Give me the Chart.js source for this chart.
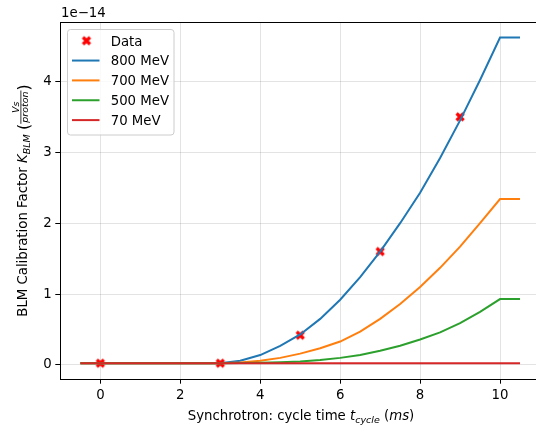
<!DOCTYPE html>
<html>
<head>
<meta charset="utf-8">
<script src="https://cdn.jsdelivr.net/npm/chart.js@4.4.1/dist/chart.umd.min.js"></script>
<style>
  html, body { margin: 0; padding: 0; background: #fff; overflow: hidden; width: 536px; height: 425px; }
  #wrap { width: 600px; height: 425px; }
</style>
</head>
<body>
<div id="wrap"><canvas id="chartBLM" width="600" height="425"></canvas></div>
<script>
/* ---- data (K in units of 1e-14 Vs/proton) ---- */
const tCycle = [-0.5, 3, 3.5, 4, 4.5, 5, 5.5, 6, 6.5, 7, 7.5, 8, 8.5, 9, 9.5, 10, 10.5];
const k800 = [0.025, 0.025, 0.06, 0.14, 0.27, 0.43, 0.65, 0.92, 1.24, 1.60, 2.00, 2.43, 2.92, 3.45, 4.02, 4.62, 4.62];
const k700 = [0.025, 0.025, 0.035, 0.06, 0.10, 0.16, 0.235, 0.33, 0.47, 0.65, 0.86, 1.10, 1.37, 1.67, 2.00, 2.34, 2.34];
const k500 = [0.025, 0.025, 0.026, 0.03, 0.038, 0.05, 0.07, 0.10, 0.14, 0.20, 0.27, 0.36, 0.46, 0.59, 0.75, 0.93, 0.93];
const k70  = [0.025, 0.025, 0.025, 0.025, 0.025, 0.025, 0.025, 0.025, 0.025, 0.025, 0.025, 0.025, 0.025, 0.025, 0.025, 0.025, 0.025];
const dataT = [0, 3, 5, 7, 9];
const dataK = [0.025, 0.025, 0.42, 1.60, 3.50];
const seriesNames = ["Data", "800 MeV", "700 MeV", "500 MeV", "70 MeV"];
const xTicks = [0, 2, 4, 6, 8, 10];
const yTicks = [0, 1, 2, 3, 4];
const offsetText = "1e\u221214";

/* ---- helpers ---- */
const FONT = "DejaVu Sans";
const FS = 13.3;
const FS_SMALL = 9.5;
function fnt(size, italic) { return (italic ? "italic " : "") + size + "px '" + FONT + "'"; }

function pts(xs, ys) { return xs.map((x, i) => ({ x: x, y: ys[i] })); }

// filled "X" marker like matplotlib
function makeXMarker(color) {
  const c = document.createElement("canvas");
  c.width = 12; c.height = 12;
  const g = c.getContext("2d");
  g.strokeStyle = color;
  g.lineWidth = 3.2;
  g.lineCap = "butt";
  g.beginPath();
  g.moveTo(2.5, 2.5); g.lineTo(9.5, 9.5);
  g.moveTo(9.5, 2.5); g.lineTo(2.5, 9.5);
  g.stroke();
  return c;
}
const xMarker = makeXMarker("#ff0000");

// rich text: list of parts, some italic / subscript / fraction
function partWidth(ctx, p) {
  if (p.frac) {
    ctx.font = fnt(p.size, true);
    return Math.max(ctx.measureText(p.num).width, ctx.measureText(p.den).width) + 2;
  }
  ctx.font = fnt(p.size, p.it);
  return ctx.measureText(p.text).width;
}
function drawParts(ctx, parts, x, y) {
  let cx = x;
  parts.forEach(p => {
    const w = partWidth(ctx, p);
    if (p.frac) {
      ctx.font = fnt(p.size, true);
      ctx.textAlign = "center";
      ctx.fillText(p.num, cx + w / 2, y - 8);
      ctx.fillText(p.den, cx + w / 2, y + 1.5);
      ctx.textAlign = "left";
      ctx.fillRect(cx, y - 6.2, w, 0.8);
    } else {
      ctx.font = fnt(p.size, p.it);
      ctx.fillText(p.text, cx, y + (p.dy || 0));
    }
    cx += w;
  });
  return cx - x;
}
function totalWidth(ctx, parts) { return parts.reduce((a, p) => a + partWidth(ctx, p), 0); }

const xTitle = [
  { text: "Synchrotron: cycle time ", size: FS },
  { text: "t", size: FS, it: true },
  { text: "cycle", size: FS_SMALL, it: true, dy: 3 },
  { text: " (", size: FS },
  { text: "ms", size: FS, it: true },
  { text: ")", size: FS }
];
const yTitle = [
  { text: "BLM Calibration Factor ", size: FS },
  { text: "K", size: FS, it: true },
  { text: "BLM", size: FS_SMALL, it: true, dy: 3 },
  { text: " ", size: FS },
  { text: "(", size: 16, dy: 2.5 },
  { frac: true, num: "Vs", den: "proton", size: FS_SMALL },
  { text: ")", size: 16, dy: 2.5 }
];

/* ---- frame, titles, offset text, legend ---- */
const decorations = {
  id: "decorations",
  afterDraw(chart) {
    const ctx = chart.ctx;
    const a = chart.chartArea;
    ctx.save();
    // top spine
    ctx.strokeStyle = "#000";
    ctx.lineWidth = 1;
    ctx.beginPath();
    ctx.moveTo(a.left, a.top + 0.5); ctx.lineTo(a.right, a.top + 0.5);
    ctx.stroke();

    ctx.fillStyle = "#000";
    ctx.textAlign = "left";
    ctx.textBaseline = "alphabetic";

    // x title, centred on the (partly cropped) plot area
    const cxm = (a.left + 542) / 2;
    const wx = totalWidth(ctx, xTitle);
    drawParts(ctx, xTitle, cxm - wx / 2, 419.5);

    // y title (rotated)
    ctx.save();
    ctx.translate(26.7, (a.top + a.bottom) / 2);
    ctx.rotate(-Math.PI / 2);
    const wy = totalWidth(ctx, yTitle);
    drawParts(ctx, yTitle, -wy / 2, 0);
    ctx.restore();

    // offset text
    ctx.font = fnt(FS, false);
    ctx.fillText(offsetText, a.left + 1, 17);

    // legend
    const bx = 67.5, by = 29.5, bw = 106.5, bh = 105.5;
    ctx.fillStyle = "rgba(255,255,255,0.8)";
    ctx.strokeStyle = "#cccccc";
    ctx.lineWidth = 1;
    ctx.beginPath();
    ctx.roundRect(bx, by, bw, bh, 3);
    ctx.fill();
    ctx.stroke();
    const ds = chart.data.datasets;
    ds.forEach((d, i) => {
      const ry = 40.7 + i * 19.85;
      if (d.showLine === false) {
        ctx.drawImage(xMarker, 86.5 - xMarker.width / 2, ry - xMarker.height / 2);
      } else {
        ctx.strokeStyle = d.borderColor;
        ctx.lineWidth = 2;
        ctx.beginPath();
        ctx.moveTo(72, ry); ctx.lineTo(99.5, ry);
        ctx.stroke();
      }
      ctx.fillStyle = "#000";
      ctx.font = fnt(FS, false);
      ctx.fillText(d.label, 110.7, ry + 4.8);
    });
    ctx.restore();
  }
};

/* ---- chart ---- */
const gridCommon = {
  color: "rgba(0,0,0,0.11)",
  borderDash: [1.5, 2],
  lineWidth: 1,
  drawTicks: true,
  tickLength: 4.7,
  tickColor: "#000",
  tickBorderDash: [],
  tickWidth: 1
};

const ctxEl = document.getElementById("chartBLM");
new Chart(ctxEl.getContext("2d"), {
  type: "line",
  data: {
    datasets: [
      { label: seriesNames[0], data: pts(dataT, dataK), showLine: false, pointStyle: xMarker,
        pointRadius: 6, pointHoverRadius: 6, borderColor: "#ff0000", backgroundColor: "#ff0000", order: 4 },
      { label: seriesNames[1], data: pts(tCycle, k800), borderColor: "#1f77b4", order: 3 },
      { label: seriesNames[2], data: pts(tCycle, k700), borderColor: "#ff7f0e", order: 2 },
      { label: seriesNames[3], data: pts(tCycle, k500), borderColor: "#2ca02c", order: 1 },
      { label: seriesNames[4], data: pts(tCycle, k70),  borderColor: "#d62728", order: 0 }
    ]
  },
  options: {
    responsive: false,
    animation: false,
    devicePixelRatio: 1,
    layout: { padding: { top: 22, right: 58, bottom: 0, left: 0 } },
    elements: {
      line: { borderWidth: 2, fill: false, tension: 0 },
      point: { radius: 0, hoverRadius: 0 }
    },
    plugins: { legend: { display: false }, tooltip: { enabled: false } },
    scales: {
      x: {
        type: "linear",
        min: -1.01, max: 11.05,
        afterBuildTicks: s => { s.ticks = xTicks.map(v => ({ value: v })); },
        afterFit: s => { s.height = 46; },
        grid: gridCommon,
        border: { display: true, color: "#000", width: 1 },
        ticks: { color: "#000", font: { family: FONT, size: FS }, padding: 4, maxRotation: 0 }
      },
      y: {
        type: "linear",
        min: -0.198, max: 4.838,
        afterBuildTicks: s => { s.ticks = yTicks.map(v => ({ value: v })); },
        afterFit: s => { s.width = 60; },
        grid: gridCommon,
        border: { display: true, color: "#000", width: 1 },
        ticks: { color: "#000", font: { family: FONT, size: FS }, padding: 3.5,
                 callback: v => String(v) }
      }
    }
  },
  plugins: [decorations]
});
</script>
</body>
</html>
